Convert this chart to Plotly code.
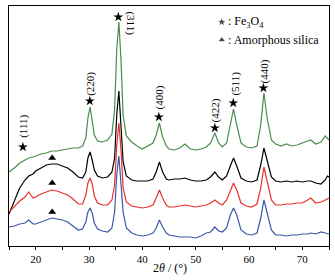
import plotly.graph_objects as go

two_theta = [15, 16, 17, 18, 18.7, 19.5, 20, 21, 22, 23, 24, 25, 26, 27, 28, 28.8, 29.4, 29.8, 30.2, 30.6,
             31.0, 31.6, 32.5, 33.5, 34.3, 34.8, 35.2, 35.6, 36.0, 36.4, 37.0, 38, 39, 40, 41, 42, 42.6, 43.2,
             43.8, 44.5, 45, 46, 47, 48, 49, 50, 51, 52, 52.8, 53.6, 54.3, 55, 55.8, 56.5, 57.1, 57.7, 58.5,
             59.5, 60.5, 61.5, 62.2, 62.8, 63.4, 64.2, 65, 66, 67, 68, 69, 70, 71, 71.6, 72.5, 73.5, 74.3,
             74.7, 75]

green = [74, 78, 83, 86, 88, 89, 90, 92, 93, 95, 95, 96, 97, 98, 98, 100, 108, 128, 139, 126,
         111, 105, 104, 106, 112, 136, 196, 224, 186, 131, 110, 104, 100, 97, 100, 103, 111, 123,
         109, 100, 97, 96, 98, 102, 97, 96, 97, 99, 103, 113, 103, 99, 103, 121, 137, 121, 103,
         99, 98, 100, 121, 153, 128, 106, 102, 100, 102, 100, 101, 103, 105, 106, 102, 104, 110,
         108, 106]

black = [32, 46, 58, 66, 70, 72, 75, 78, 81, 82, 82, 80, 78, 74, 69, 68, 74, 88, 94, 86,
         76, 70, 68, 69, 74, 88, 131, 155, 121, 84, 70, 66, 65, 65, 65, 67, 74, 84,
         74, 67, 66, 67, 67, 68, 66, 65, 65, 66, 69, 74, 69, 66, 70, 80, 88, 80, 68,
         65, 64, 66, 81, 98, 86, 69, 65, 64, 65, 64, 65, 64, 65, 65, 63, 62, 66,
         70, 69]

red = [34, 40, 45, 49, 54, 48, 49, 52, 54, 56, 55, 53, 51, 47, 42, 42, 51, 63, 68, 62,
       50, 43, 41, 41, 46, 61, 101, 123, 96, 58, 44, 40, 39, 38, 39, 41, 48, 56,
       48, 41, 39, 39, 40, 41, 40, 39, 40, 41, 43, 46, 43, 41, 46, 56, 63, 56, 43,
       40, 39, 42, 58, 79, 66, 46, 41, 41, 42, 42, 43, 43, 46, 48, 43, 44, 46,
       47, 48]

blue = [19, 20, 22, 23, 26, 22, 22, 24, 26, 28, 27, 26, 24, 20, 16, 17, 24, 34, 38, 33,
        23, 17, 15, 14, 18, 34, 71, 90, 66, 34, 18, 13, 11, 10, 11, 13, 18, 26,
        19, 13, 11, 10, 9, 9, 9, 8, 10, 13, 14, 19, 15, 14, 18, 31, 38, 31, 16,
        12, 11, 13, 28, 46, 34, 16, 11, 11, 10, 11, 11, 12, 12, 13, 12, 14, 13,
        12, 12]

# Fe3O4 reflections: star marks and hkl labels
hkl_labels = ["(111)", "(220)", "(311)", "(400)", "(422)", "(511)", "(440)"]
star_x = [17.6, 30.15, 35.5, 43.1, 53.6, 57.05, 62.7]
star_y = [99, 145, 229, 129, 118, 143, 158]
label_x = [17.6, 30.15, 37.8, 43.2, 53.7, 57.3, 62.9]
label_y = [120, 162, 223, 149, 136, 162, 175]
label_angle = [-90, -90, 90, -90, -90, -90, -90]

# amorphous silica marks
tri_x = [23.1, 23.1, 23.1]
tri_y = [88, 63, 34]

legend_marker_x = [54.9, 54.9]
legend_marker_y = [224, 206]
legend_text = [": Fe<sub>3</sub>O<sub>4</sub>", ": Amorphous silica"]
legend_symbols = ["star", "triangle-up"]

x_title = "2<i>θ</i> / (°)"

serif = "Liberation Serif, Times New Roman, serif"

fig = go.Figure()
series = [("green", green, "#4a8c4a"), ("black", black, "#000000"),
          ("red", red, "#e8302c"), ("blue", blue, "#3a58a8")]
for name, vals, col in series:
    fig.add_trace(go.Scatter(x=two_theta, y=vals, mode="lines", name=name,
                             line=dict(color=col, width=1.2), showlegend=False))

fig.add_trace(go.Scatter(x=star_x, y=star_y, mode="markers", showlegend=False,
                         marker=dict(symbol="star", size=7.5, color="black")))
fig.add_trace(go.Scatter(x=tri_x, y=tri_y, mode="markers", showlegend=False,
                         marker=dict(symbol="triangle-up", size=7, color="black")))
fig.add_trace(go.Scatter(x=legend_marker_x, y=legend_marker_y, mode="markers", showlegend=False,
                         marker=dict(symbol=legend_symbols, size=[7.5, 7], color="black")))

for t, x, y, a in zip(hkl_labels, label_x, label_y, label_angle):
    fig.add_annotation(x=x, y=y, text=t, showarrow=False, textangle=a,
                       font=dict(family=serif, size=11, color="black"))
for t, x, y in zip(legend_text, legend_marker_x, legend_marker_y):
    fig.add_annotation(x=x + 0.7, y=y, text=t, showarrow=False, xanchor="left",
                       font=dict(family=serif, size=12, color="black"))

fig.add_annotation(xref="paper", yref="paper", x=0.503, y=-0.092, text=x_title,
                   showarrow=False, xanchor="center", yanchor="middle",
                   font=dict(family=serif, size=12, color="black"))

fig.update_layout(
    width=335, height=280,
    margin=dict(l=9, r=6, t=6, b=34),
    paper_bgcolor="white", plot_bgcolor="white",
    font=dict(family=serif, size=11, color="black"),
)
fig.update_xaxes(range=[15, 75], dtick=10, tick0=10, showgrid=False, zeroline=False,
                 showline=True, linecolor="black", linewidth=1, mirror=True,
                 ticks="outside", ticklen=3, tickcolor="black", automargin=False,
                 minor=dict(dtick=5, tick0=15, ticks="outside", ticklen=3, tickcolor="black"),
                 tickfont=dict(family=serif, size=11))
fig.update_yaxes(range=[0, 240], showgrid=False, zeroline=False, showticklabels=False,
                 showline=True, linecolor="black", linewidth=1, mirror=True, ticks="",
                 automargin=False)

fig.write_html("out.html", config={"displayModeBar": False},
               post_script="document.body.style.margin='0';document.body.style.overflow='hidden';")
